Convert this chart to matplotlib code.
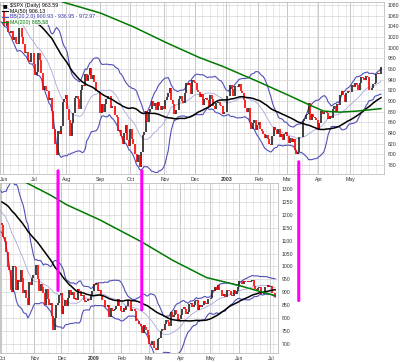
import numpy as np
import pandas as pd
import matplotlib
matplotlib.use("Agg")
import matplotlib.pyplot as plt
from matplotlib.patches import ConnectionPatch

plt.rcParams["font.family"] = ["Liberation Sans", "DejaVu Sans"]

# ---------------- 2002-2003 S&P 500 daily closes ----------------
spx02_pre = [1093.14, 1091.48, 1076.32, 1065.45, 1076.92,               # Apr 24-30 2002
             1086.46, 1084.56, 1073.43, 1052.67, 1049.49, 1088.85, 1073.01, 1054.99,
             1074.56, 1097.28, 1091.07, 1098.23, 1106.59, 1091.88, 1079.88, 1086.02,
             1097.08, 1083.82, 1074.55, 1067.66, 1064.66, 1067.14]      # May 2002
spx02_jun = [1040.69, 1040.68, 1049.90, 1029.15, 1027.53, 1030.74, 1013.60, 1020.26, 1009.56, 1007.27,
             1036.17, 1037.14, 1019.99, 1006.29, 989.14, 992.72, 976.14, 973.53, 990.64, 989.82]
spx02_jul = [968.65, 948.09, 953.99, 989.03, 976.98, 952.83, 920.47, 927.37, 921.39, 917.93, 900.94,
             906.04, 881.56, 847.75, 819.85, 797.70, 843.43, 838.68, 852.84, 898.96, 902.78, 911.62]
spx02_aug = [884.66, 864.24, 834.60, 859.57, 876.77, 905.46, 908.64, 903.80, 884.21, 919.62, 930.25,
             928.77, 950.70, 937.43, 949.36, 962.70, 940.86, 947.95, 934.82, 917.87, 917.80, 916.07]
spx02_sep = [878.02, 893.40, 879.15, 893.92, 902.96, 909.58, 909.45, 886.91, 889.81, 891.10, 873.52,
             869.46, 843.32, 845.39, 833.70, 819.29, 839.66, 854.95, 827.37, 815.28]
spx02_oct = [847.91, 827.91, 818.95, 800.58, 785.28, 798.55, 776.76, 803.92, 835.32, 841.44, 881.27,
             860.02, 879.20, 884.39, 899.72, 890.16, 896.14, 882.50, 897.65, 890.23, 882.15, 890.71, 885.76]
spx02_nov = [900.96, 908.35, 915.39, 923.76, 902.65, 894.74, 876.19, 882.95, 882.53, 904.27, 909.83,
             900.36, 896.74, 914.15, 933.76, 930.55, 932.87, 913.31, 938.87, 936.31]
spx02_dec = [934.53, 920.75, 917.58, 906.55, 912.23, 892.00, 904.45, 904.96, 901.58, 889.48, 910.40,
             902.99, 891.12, 884.25, 895.76, 897.38, 892.47, 889.66, 875.40, 879.39, 879.82]
spx03_jan = [909.03, 908.59, 929.01, 922.93, 909.93, 927.58, 927.57, 926.26, 931.66, 918.22, 914.60,
             901.78, 887.62, 878.36, 887.34, 861.40, 847.48, 858.54, 864.36, 844.61, 855.70]
spx03_feb = [860.32, 848.20, 843.59, 838.15, 829.69, 835.97, 829.20, 818.68, 817.37, 834.89, 851.17,
             845.13, 837.10, 848.17, 832.58, 838.57, 827.55, 837.28, 841.15]
spx03_mar = [834.81, 821.99, 829.85, 822.10, 828.89, 807.48, 800.73, 804.19, 831.90, 833.27, 862.79,
             866.45, 874.02, 875.67, 895.79, 864.23, 874.74, 869.95, 868.52, 863.50, 848.18]
spx03_apr = [858.48, 880.90, 876.45, 878.85, 879.93, 878.29, 865.99, 871.58, 868.30, 885.23, 890.81,
             879.91, 893.58, 892.01, 911.37, 919.02, 911.43, 898.81, 914.84, 917.84, 916.92]
spx03_may = [916.30, 930.08, 926.55, 934.39, 929.62, 920.27, 933.41, 945.11, 942.30, 939.28, 946.67,
             944.30, 920.77, 919.73, 923.42, 931.87, 933.22, 951.48, 953.22, 949.64, 963.59]
holidays_0203 = ["2002-05-27", "2002-07-04", "2002-09-02", "2002-11-28", "2002-12-25",
                 "2003-01-01", "2003-01-20", "2003-02-17", "2003-04-18", "2003-05-26"]
# MA(200) (trading-day index from Jun 3 2002, value)
ma200_top_idx = [39, 64, 86, 108, 130, 145, 168, 190, 203, 212, 223, 234, 250]
ma200_top_val = [1085.6, 1065, 1039, 1009, 981, 965, 937, 909, 892, 881, 879, 881, 885.6]

# ---------------- 2008-2009 S&P 500 daily closes ----------------
spx08_pre = [1282.19, 1252.54, 1257.76, 1234.37, 1263.20, 1284.26, 1267.38,       # Jul 23-31 2008
             1260.31, 1249.01, 1284.88, 1289.19, 1266.07, 1296.32, 1305.32, 1289.59, 1285.83,
             1292.93, 1298.20, 1278.60, 1266.69, 1274.54, 1277.72, 1292.20, 1266.84, 1271.51,
             1281.66, 1300.68, 1282.83,                                           # Aug 2008
             1277.58, 1274.98, 1236.83, 1242.31, 1267.79, 1224.51, 1232.04, 1249.05, 1251.70,
             1192.70, 1213.60, 1156.39, 1206.51, 1255.08, 1207.09, 1188.22, 1185.87, 1209.18,
             1213.27, 1106.39, 1166.36]                                           # Sep 2008
spx08_oct = [1161.06, 1114.28, 1099.23, 1056.89, 996.23, 984.94, 909.92, 899.22, 1003.35, 998.01,
             907.84, 946.43, 940.55, 985.40, 955.05, 896.78, 908.11, 876.77, 848.92, 940.51,
             930.09, 954.09, 968.75]
spx08_nov = [966.30, 1005.75, 952.77, 904.88, 930.99, 919.21, 898.95, 852.30, 911.29, 873.29,
             850.75, 859.12, 806.58, 752.44, 800.03, 851.81, 857.39, 887.68, 896.24]
spx08_dec = [816.21, 848.81, 870.74, 845.22, 876.07, 909.70, 888.67, 899.24, 873.59, 879.73, 868.57,
             913.18, 904.42, 885.28, 887.88, 871.63, 863.16, 868.15, 872.80, 869.42, 890.64, 903.25]
spx09_jan = [931.80, 927.45, 934.70, 906.65, 909.73, 890.35, 870.26, 871.79, 842.62, 843.74, 850.12,
             805.22, 840.24, 827.50, 831.95, 836.57, 845.71, 874.09, 845.14, 825.88]
spx09_feb = [825.44, 838.51, 832.23, 845.85, 868.60, 869.89, 827.16, 833.74, 835.19, 826.84, 789.17,
             788.42, 778.94, 770.05, 743.33, 773.14, 764.90, 752.83, 735.09]
spx09_mar = [700.82, 696.33, 712.87, 682.55, 683.38, 676.53, 719.60, 721.36, 750.74, 756.55, 753.89,
             778.12, 794.35, 784.04, 768.54, 822.92, 806.12, 813.88, 832.86, 815.94, 787.53, 797.87]
spx09_apr = [811.08, 834.38, 842.50, 835.48, 815.55, 825.16, 856.56, 858.73, 841.50, 852.06, 865.30,
             869.60, 832.39, 850.08, 843.55, 851.92, 866.23, 857.51, 855.16, 873.64, 872.81]
spx09_may = [877.52, 907.24, 903.80, 919.53, 907.39, 929.23, 909.24, 908.35, 883.92, 893.07, 882.88,
             909.71, 908.13, 903.47, 888.33, 887.00, 910.33, 893.06, 906.83, 919.14]
spx09_jun = [942.87, 944.74, 931.76, 942.46, 940.09, 939.14, 942.43, 939.15, 944.89, 946.21, 923.72,
             911.97, 910.71, 918.37, 921.23, 893.04, 895.10, 900.94, 920.26, 918.90, 927.23, 919.32]
spx09_jul = [923.33, 896.42, 898.72, 881.03]
holidays_0809 = ["2008-09-01", "2008-11-27", "2008-12-25", "2009-01-01", "2009-01-19",
                 "2009-02-16", "2009-04-10", "2009-05-25", "2009-07-03"]
ma200_bot_idx = [16, 33.6, 45.5, 68.5, 98, 119.6, 143, 166, 178, 191]
ma200_bot_val = [1327, 1277, 1238, 1180, 1094, 1023, 957, 926, 907, 887]

legend_lines = ["$SPX (Daily) 963.59", "MA(50) 906.13",
                "BB(20,2.0) 900.93 - 936.95 - 972.97", "MA(200) 885.58"]
top_yticks = list(range(780, 1081, 20))
bot_yticks = list(range(700, 1301, 50))

# ---------------- helpers ----------------
def trading_days(start, end, hol):
    d = pd.bdate_range(start, end)
    return d[~d.isin(pd.to_datetime(hol))]

def build(pre, months, start, end, hol):
    closes = np.array(pre + sum(months, []), dtype=float)
    dates = trading_days(start, end, hol)
    assert len(dates) == len(closes), (len(dates), len(closes))
    s = pd.Series(closes)
    ma50 = s.rolling(50).mean().values
    mid = s.rolling(20).mean()
    sd = s.rolling(20).std(ddof=0)
    up = (mid + 2 * sd).values
    lo = (mid - 2 * sd).values
    n = len(pre)
    x = np.arange(len(closes)) - n
    return dates[n:], closes, x, ma50, mid.values, up, lo, n

W, H = 400, 362
fig = plt.figure(figsize=(W / 100, H / 100), dpi=100)
fig.patch.set_facecolor("white")

def rect(x0, y0, x1, y1):
    return [x0 / W, 1 - y1 / H, (x1 - x0) / W, (y1 - y0) / H]

ax_top = fig.add_axes(rect(0, 2, 384, 174))
ax_bot = fig.add_axes(rect(0, 183, 278, 353))

BB_C = "#5050b8"
MID_C = "#a8a8e0"
TICK_FS = 3.7

def draw_panel(ax, data, xlim, ylim, yticks, ma200_idx, ma200_val):
    dates, closes, x, ma50, mid, up, lo, n = data
    ax.set_xlim(*xlim)
    ax.set_ylim(*ylim)
    # grid
    wk = [i for i in range(len(dates)) if i == 0 or dates[i].weekday() < dates[i - 1].weekday()]
    mo = [i for i in range(len(dates)) if i == 0 or dates[i].month != dates[i - 1].month]
    for i in wk:
        ax.axvline(i - 0.5, color="#e2e2e2", lw=0.5, zorder=0)
    for i in mo:
        ax.axvline(i - 0.5, color="#c0c0c0", lw=0.6, zorder=0)
    for yv in yticks:
        ax.axhline(yv, color="#d4d4d4", lw=0.5, zorder=0)
    # indicators
    ax.plot(x, up, color=BB_C, lw=0.8, zorder=2)
    ax.plot(x, lo, color=BB_C, lw=0.8, zorder=2)
    ax.plot(x, mid, color=MID_C, lw=0.6, zorder=2)
    ax.plot(x, ma50, color="black", lw=1.1, zorder=4)
    ax.plot(ma200_idx, ma200_val, color="#007a00", lw=1.1, zorder=4)
    # candles (body from previous close to close)
    vis = x >= 0
    prev = closes[np.where(vis)[0] - 1]
    cur = closes[vis]
    xv = x[vis]
    down = cur < prev
    ax.vlines(xv[~down], prev[~down], cur[~down], color="#222222", lw=1.2, zorder=3)
    ax.vlines(xv[down], prev[down], cur[down], color="#ff0000", lw=1.2, zorder=3)
    # ticks
    ax.yaxis.tick_right()
    ax.set_yticks(yticks)
    ax.set_yticklabels([str(v) for v in yticks], fontsize=TICK_FS, color="#333333")
    ax.tick_params(axis="y", length=0, pad=2.5)
    labels = []
    for i in mo:
        d = dates[i]
        labels.append(str(d.year) if d.month == 1 else d.strftime("%b"))
    ax.set_xticks(mo)
    ax.set_xticklabels(labels, fontsize=TICK_FS, color="#333333")
    for t, lab in zip(ax.get_xticklabels(), labels):
        if lab.isdigit():
            t.set_fontweight("bold")
    ax.tick_params(axis="x", length=0, pad=2.5)
    for sp in ax.spines.values():
        sp.set_color("#b0b0b0")
        sp.set_linewidth(0.5)

top = build(spx02_pre, [spx02_jun, spx02_jul, spx02_aug, spx02_sep, spx02_oct, spx02_nov, spx02_dec,
                        spx03_jan, spx03_feb, spx03_mar, spx03_apr, spx03_may],
            "2002-04-24", "2003-05-30", holidays_0203)
bot = build(spx08_pre, [spx08_oct, spx08_nov, spx08_dec, spx09_jan, spx09_feb, spx09_mar, spx09_apr,
                        spx09_may, spx09_jun, spx09_jul],
            "2008-07-23", "2009-07-07", holidays_0809)

draw_panel(ax_top, top, (-2.45, 252), (763, 1085.6), top_yticks, ma200_top_idx, ma200_top_val)
draw_panel(ax_bot, bot, (-1.4, 193), (665, 1323), bot_yticks, ma200_bot_idx, ma200_bot_val)

# legend block (top-left)
leg_colors = ["black", "black", "#3030a0", "#007a00"]
line_colors = [None, "black", BB_C, "#007a00"]
for k, (txt, tc, lc) in enumerate(zip(legend_lines, leg_colors, line_colors)):
    py = 5.5 + k * 5.6
    yf = 1 - (py - 2) / 172
    if lc is None:
        ax_top.text(3 / 384, yf, "\u25a0", transform=ax_top.transAxes, fontsize=3.5,
                    va="center", ha="left", color="black", zorder=6,
                    family=["DejaVu Sans"])
    else:
        ax_top.plot([2 / 384, 8 / 384], [yf, yf], transform=ax_top.transAxes, color=lc,
                    lw=0.8, zorder=6, clip_on=False)
    ax_top.text(10 / 384, yf, txt, transform=ax_top.transAxes, fontsize=3.8, va="center",
                ha="left", color=tc, zorder=6,
                bbox=dict(facecolor="white", edgecolor="none", alpha=0.85, pad=0.3))

# magenta projection lines (top day index, top price, bottom price)
mag_top_idx = [36, 91.5, 195.5]
mag_top_price = [769, 769, 786]
mag_bot_price = [907, 832, 868]
fig.canvas.draw()
for ti, tp, bp in zip(mag_top_idx, mag_top_price, mag_bot_price):
    xd = ax_top.transData.transform((ti, tp))[0]
    xb = ax_bot.transData.inverted().transform((xd, 0))[0]
    cp = ConnectionPatch(xyA=(ti, tp), coordsA=ax_top.transData, xyB=(xb, bp),
                         coordsB=ax_bot.transData, color="#ff00ff", lw=2.2, zorder=10)
    fig.add_artist(cp)

fig.savefig("out.png", dpi=100, facecolor="white")
